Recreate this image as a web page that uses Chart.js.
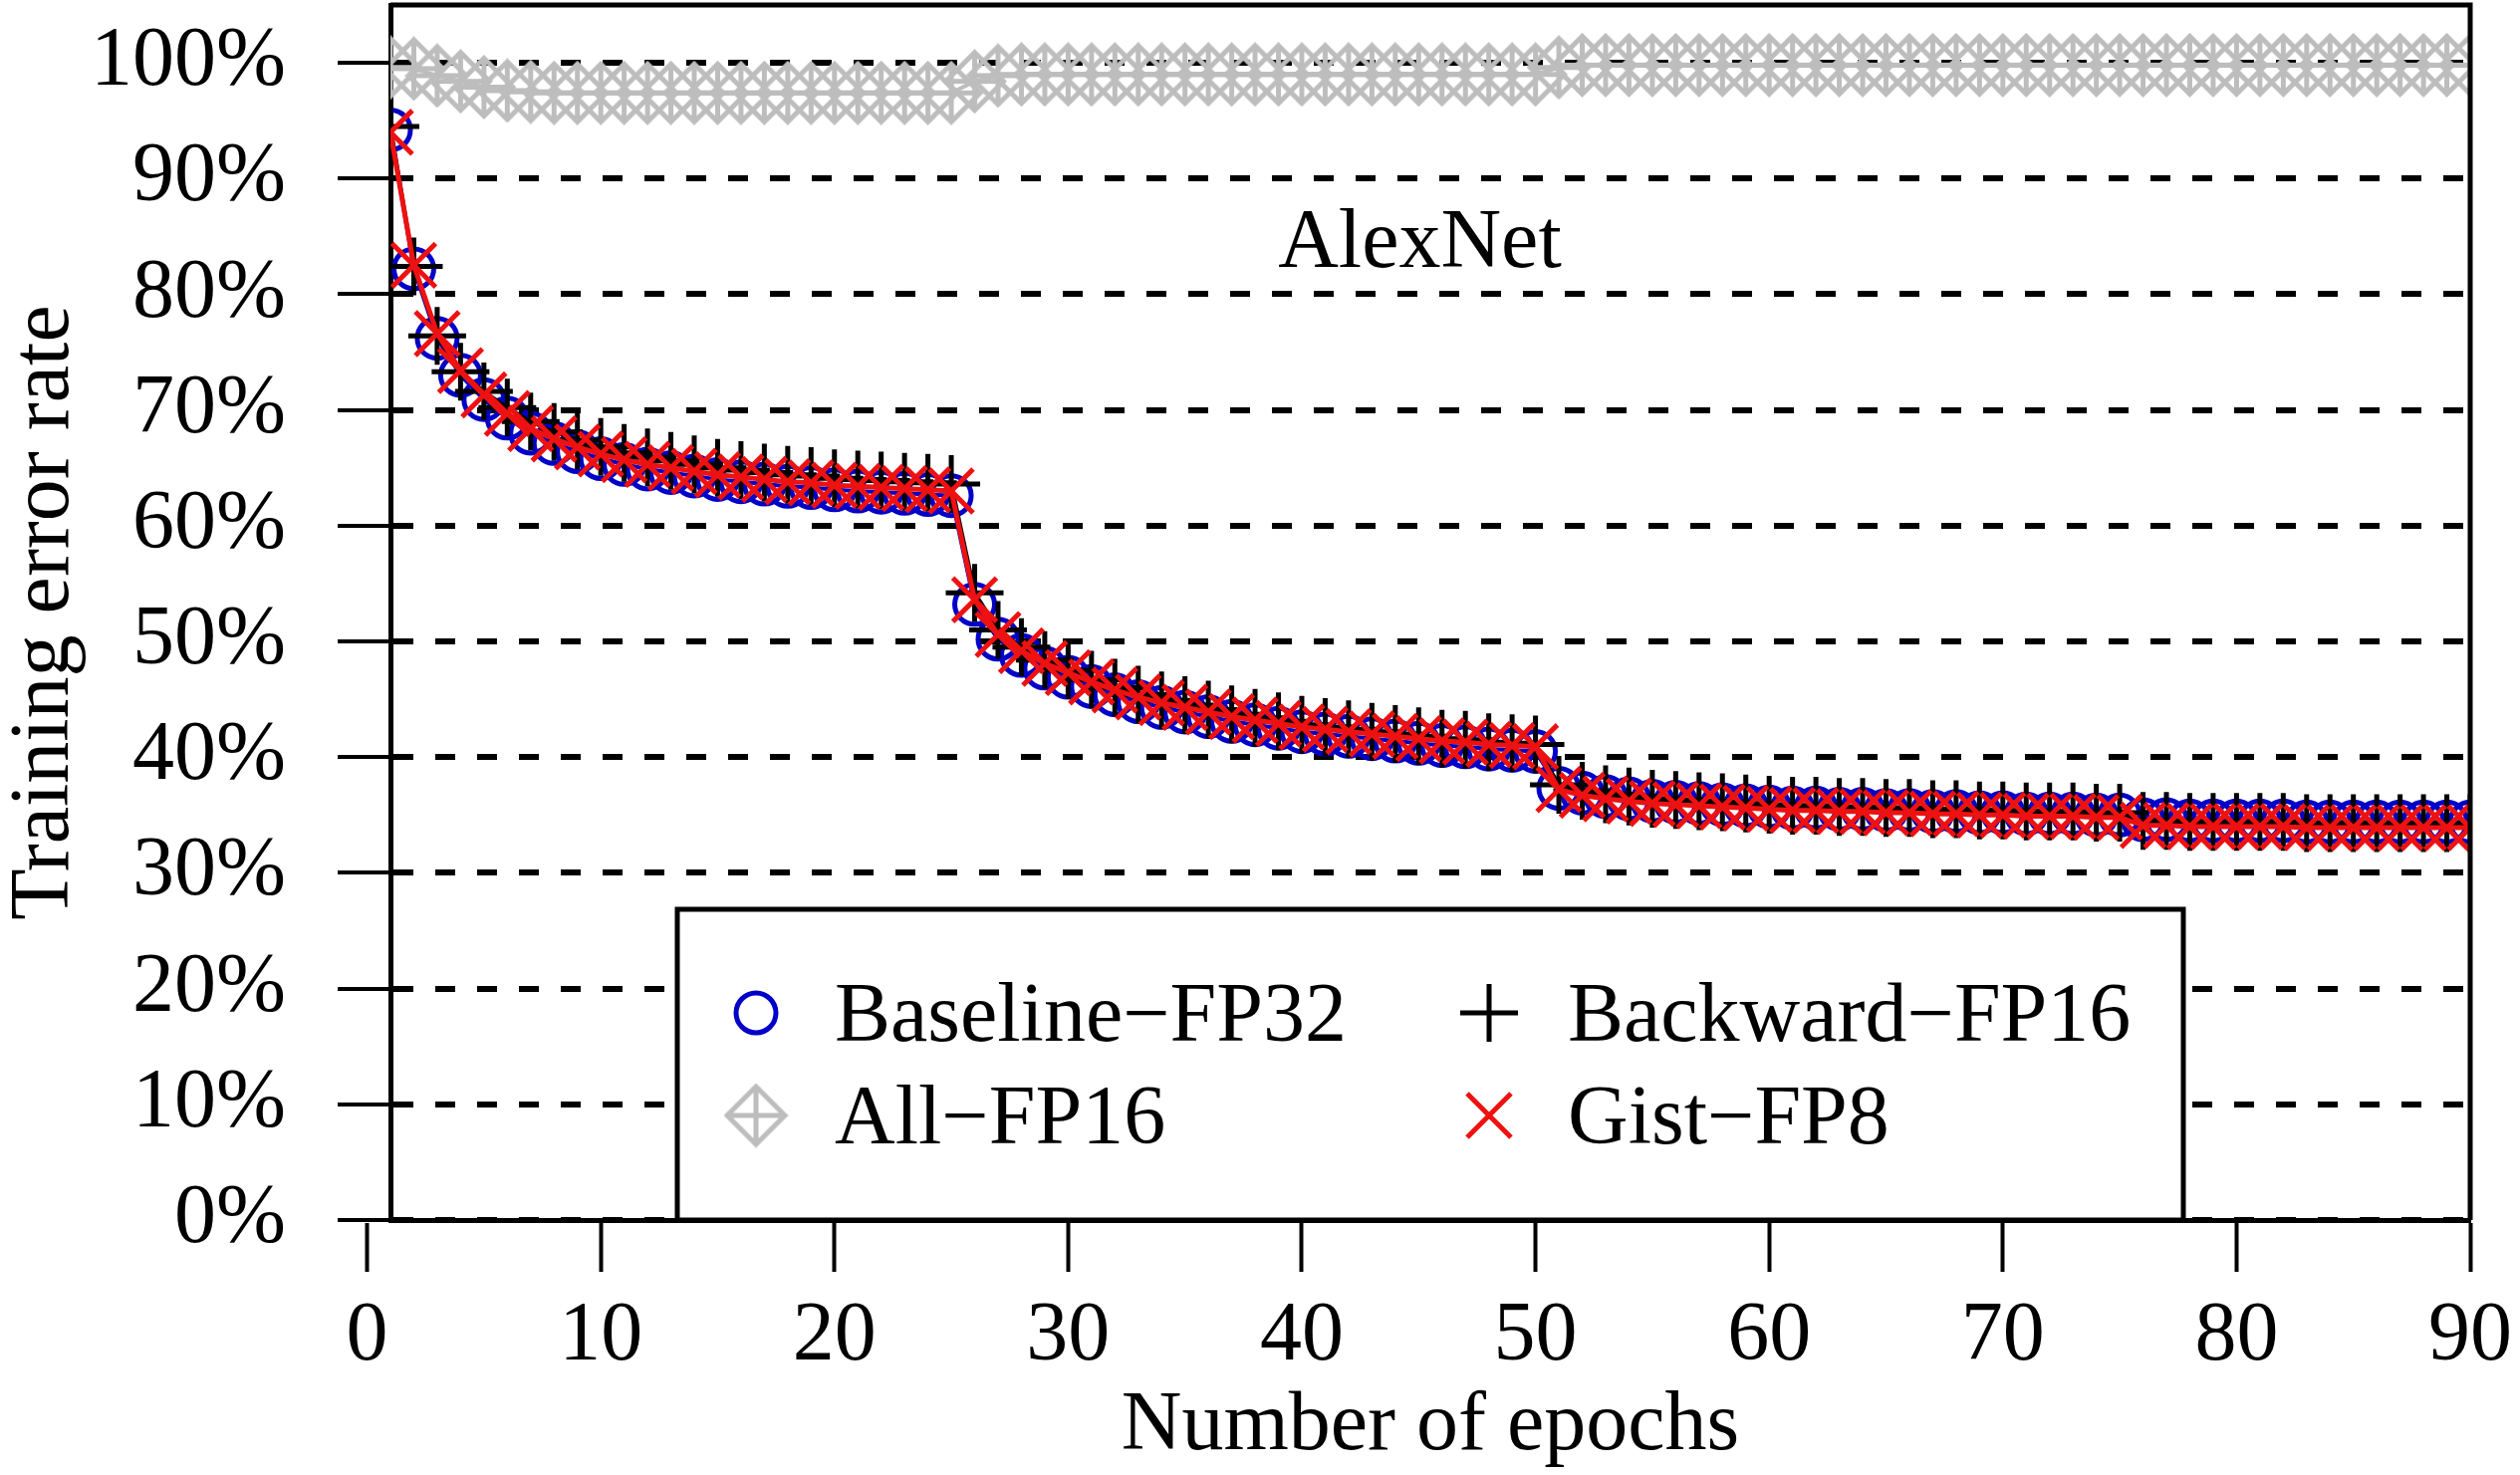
<!DOCTYPE html>
<html>
<head>
<meta charset="utf-8">
<title>AlexNet training error</title>
<script src="https://cdn.jsdelivr.net/npm/chart.js@4.4.1/dist/chart.umd.min.js"></script>
<style>
  html, body { margin: 0; padding: 0; background: #fff; }
  #wrap { width: 2530px; height: 1481px; }
</style>
</head>
<body>
<div id="wrap"><canvas id="chart" width="2530" height="1481"></canvas></div>
<script>
// epochs 1..90
const epochs = [
  1, 2, 3, 4, 5, 6, 7, 8, 9, 10, 11, 12, 13, 14, 15, 16, 17, 18, 19, 20,
  21, 22, 23, 24, 25, 26, 27, 28, 29, 30, 31, 32, 33, 34, 35, 36, 37, 38, 39, 40,
  41, 42, 43, 44, 45, 46, 47, 48, 49, 50, 51, 52, 53, 54, 55, 56, 57, 58, 59, 60,
  61, 62, 63, 64, 65, 66, 67, 68, 69, 70, 71, 72, 73, 74, 75, 76, 77, 78, 79, 80,
  81, 82, 83, 84, 85, 86, 87, 88, 89, 90
];

const baselineFP32 = [
  94.2, 82.2, 76.2, 73.0, 70.9, 69.3, 68.0, 67.1, 66.4, 65.8,
  65.3, 64.9, 64.6, 64.3, 64.0, 63.8, 63.6, 63.4, 63.3, 63.1,
  63.0, 62.9, 62.8, 62.7, 62.6, 53.2, 50.2, 48.8, 47.7, 46.9,
  46.1, 45.4, 44.8, 44.3, 43.9, 43.5, 43.1, 42.8, 42.5, 42.2,
  42.0, 41.8, 41.6, 41.4, 41.2, 41.0, 40.9, 40.7, 40.6, 40.5,
  37.3, 36.9, 36.6, 36.4, 36.2, 36.1, 36.0, 35.9, 35.8, 35.7,
  35.6, 35.6, 35.5, 35.5, 35.4, 35.4, 35.3, 35.3, 35.2, 35.2,
  35.1, 35.1, 35.1, 35.0, 35.0, 34.6, 34.6, 34.5, 34.5, 34.5,
  34.5, 34.5, 34.4, 34.4, 34.4, 34.4, 34.4, 34.4, 34.4, 34.4
];

const backwardFP16 = [
  94.5, 82.4, 76.4, 73.3, 71.6, 70.2, 69.0, 68.1, 67.4, 66.8,
  66.3, 65.9, 65.6, 65.3, 65.0, 64.8, 64.6, 64.4, 64.3, 64.1,
  64.0, 63.9, 63.8, 63.7, 63.6, 54.2, 51.0, 49.5, 48.4, 47.5,
  46.7, 46.0, 45.4, 44.9, 44.5, 44.1, 43.7, 43.4, 43.1, 42.8,
  42.6, 42.4, 42.2, 42.0, 41.8, 41.6, 41.5, 41.3, 41.2, 41.1,
  37.6, 37.1, 36.8, 36.6, 36.4, 36.3, 36.2, 36.1, 36.0, 35.9,
  35.8, 35.8, 35.7, 35.7, 35.6, 35.6, 35.5, 35.5, 35.4, 35.4,
  35.3, 35.3, 35.3, 35.2, 35.2, 34.5, 34.5, 34.4, 34.4, 34.4,
  34.4, 34.4, 34.3, 34.3, 34.3, 34.3, 34.3, 34.3, 34.3, 34.3
];

const allFP16 = [
  99.6, 99.5, 98.9, 98.4, 97.9, 97.6, 97.5, 97.4, 97.4, 97.4,
  97.4, 97.4, 97.4, 97.4, 97.4, 97.4, 97.4, 97.4, 97.4, 97.4,
  97.4, 97.4, 97.4, 97.4, 97.4, 98.4, 98.9, 99.0, 99.0, 99.0,
  99.0, 99.0, 99.0, 99.0, 99.0, 99.0, 99.0, 99.0, 99.0, 99.0,
  99.0, 99.0, 99.0, 99.0, 99.0, 99.0, 99.0, 99.0, 99.0, 99.0,
  99.6, 99.8, 99.8, 99.8, 99.8, 99.8, 99.8, 99.8, 99.8, 99.8,
  99.8, 99.8, 99.8, 99.8, 99.8, 99.8, 99.8, 99.8, 99.8, 99.8,
  99.8, 99.8, 99.8, 99.8, 99.8, 99.8, 99.8, 99.8, 99.8, 99.8,
  99.8, 99.8, 99.8, 99.8, 99.8, 99.8, 99.8, 99.8, 99.8, 99.8
];

const gistFP8 = [
  94.0, 82.5, 76.6, 73.4, 71.3, 69.7, 68.4, 67.5, 66.8, 66.2,
  65.7, 65.3, 65.0, 64.7, 64.4, 64.2, 64.0, 63.8, 63.7, 63.5,
  63.4, 63.3, 63.2, 63.1, 63.0, 53.6, 50.6, 49.2, 48.1, 47.3,
  46.5, 45.8, 45.2, 44.7, 44.3, 43.9, 43.5, 43.2, 42.9, 42.6,
  42.4, 42.2, 42.0, 41.8, 41.6, 41.4, 41.3, 41.1, 41.0, 40.9,
  37.2, 36.7, 36.4, 36.2, 36.0, 35.9, 35.8, 35.7, 35.6, 35.5,
  35.4, 35.4, 35.3, 35.3, 35.2, 35.2, 35.1, 35.1, 35.0, 35.0,
  34.9, 34.9, 34.9, 34.8, 34.8, 34.1, 34.1, 34.0, 34.0, 34.0,
  34.0, 34.0, 33.9, 33.9, 33.9, 33.9, 33.9, 33.9, 33.9, 33.9
];

const xTicks = [0, 10, 20, 30, 40, 50, 60, 70, 80, 90];
const yTicks = [0, 10, 20, 30, 40, 50, 60, 70, 80, 90, 100];

const BLUE = '#0000c8';
const RED = '#ee1111';
const GRAY = '#bdbdbd';
const FONT = "'Liberation Serif', 'Times New Roman', serif";

Chart.defaults.font.family = FONT;
Chart.defaults.color = '#000';

// gray diamond with a plus inside, used as point style for All-FP16
function diamondPlus(color, r, lw) {
  const c = document.createElement('canvas');
  const s = Math.ceil(2 * r + lw + 2);
  c.width = s;
  c.height = s;
  const g = c.getContext('2d');
  const m = s / 2;
  g.strokeStyle = color;
  g.lineWidth = lw;
  g.beginPath();
  g.moveTo(m - r, m); g.lineTo(m, m - r); g.lineTo(m + r, m); g.lineTo(m, m + r); g.closePath();
  g.moveTo(m - r, m); g.lineTo(m + r, m);
  g.moveTo(m, m - r); g.lineTo(m, m + r);
  g.stroke();
  return c;
}
const diamondImg = diamondPlus(GRAY, 29, 5);

function toPoints(ys) {
  return ys.map((v, i) => ({ x: epochs[i], y: v }));
}

const legendEntries = [
  { label: 'Baseline\u2212FP32', kind: 'circle', color: BLUE, col: 0, row: 0 },
  { label: 'Backward\u2212FP16', kind: 'plus', color: '#000', col: 1, row: 0 },
  { label: 'All\u2212FP16', kind: 'diamond', color: GRAY, col: 0, row: 1 },
  { label: 'Gist\u2212FP8', kind: 'x', color: RED, col: 1, row: 1 }
];

function drawMarker(ctx, kind, color, x, y) {
  ctx.save();
  ctx.strokeStyle = color;
  ctx.lineWidth = 5;
  ctx.beginPath();
  if (kind === 'circle') {
    ctx.arc(x, y, 20, 0, Math.PI * 2);
  } else if (kind === 'plus') {
    ctx.moveTo(x - 29, y); ctx.lineTo(x + 29, y);
    ctx.moveTo(x, y - 29); ctx.lineTo(x, y + 29);
  } else if (kind === 'x') {
    ctx.moveTo(x - 22, y - 22); ctx.lineTo(x + 22, y + 22);
    ctx.moveTo(x + 22, y - 22); ctx.lineTo(x - 22, y + 22);
  }
  ctx.stroke();
  if (kind === 'diamond') {
    ctx.drawImage(diamondImg, x - diamondImg.width / 2, y - diamondImg.height / 2);
  }
  ctx.restore();
}

const framePlugin = {
  id: 'frame',
  afterDatasetsDraw(chart) {
    const { ctx, chartArea: a, scales: { x, y } } = chart;
    ctx.save();
    // top and right border
    ctx.strokeStyle = '#000';
    ctx.lineWidth = 5;
    ctx.beginPath();
    ctx.moveTo(a.left, a.top);
    ctx.lineTo(a.right, a.top);
    ctx.lineTo(a.right, a.bottom);
    ctx.stroke();

    ctx.fillStyle = '#000';
    ctx.font = '84px ' + FONT;
    ctx.textAlign = 'center';
    ctx.textBaseline = 'alphabetic';
    // panel title
    ctx.fillText('AlexNet', x.getPixelForValue(45.05), y.getPixelForValue(82.4));
    // x axis title
    ctx.fillText('Number of epochs', (a.left + a.right) / 2, 1455);

    // legend box
    const bx = 680, by = 913, bw = 1512, bh = a.bottom - by;
    ctx.fillStyle = '#fff';
    ctx.fillRect(bx, by, bw, bh);
    ctx.strokeStyle = '#000';
    ctx.lineWidth = 5;
    ctx.strokeRect(bx, by, bw, bh);

    const colMarkX = [759, 1495];
    const colTextX = [838, 1574];
    const rowY = [1017, 1120];
    ctx.fillStyle = '#000';
    ctx.textAlign = 'left';
    legendEntries.forEach(e => {
      drawMarker(ctx, e.kind, e.color, colMarkX[e.col], rowY[e.row]);
      ctx.fillText(e.label, colTextX[e.col], rowY[e.row] + 28);
    });
    ctx.restore();
  }
};

const ctx = document.getElementById('chart').getContext('2d');
new Chart(ctx, {
  type: 'line',
  data: {
    datasets: [
      {
        label: 'Baseline\u2212FP32',
        data: toPoints(baselineFP32),
        borderColor: BLUE,
        borderWidth: 4,
        pointStyle: 'circle',
        pointRadius: 20,
        pointBorderWidth: 5,
        pointBorderColor: BLUE,
        pointBackgroundColor: 'rgba(0,0,0,0)',
        order: 3
      },
      {
        label: 'Backward\u2212FP16',
        data: toPoints(backwardFP16),
        borderColor: '#000',
        borderWidth: 4,
        pointStyle: 'cross',
        pointRadius: 29,
        pointBorderWidth: 5,
        pointBorderColor: '#000',
        order: 2
      },
      {
        label: 'All\u2212FP16',
        data: toPoints(allFP16),
        borderColor: GRAY,
        borderWidth: 4,
        pointStyle: diamondImg,
        pointRadius: 29,
        order: 1
      },
      {
        label: 'Gist\u2212FP8',
        data: toPoints(gistFP8),
        borderColor: RED,
        borderWidth: 5,
        pointStyle: 'crossRot',
        pointRadius: 31,
        pointBorderWidth: 5,
        pointBorderColor: RED,
        order: 0
      }
    ]
  },
  options: {
    responsive: false,
    animation: false,
    devicePixelRatio: 1,
    layout: { autoPadding: false, padding: { top: 5, right: 50, left: 0, bottom: 0 } },
    elements: { line: { tension: 0 } },
    plugins: {
      legend: { display: false },
      tooltip: { enabled: false }
    },
    scales: {
      x: {
        type: 'linear',
        min: 1,
        max: 90,
        afterBuildTicks: s => { s.ticks = xTicks.map(v => ({ value: v })); },
        afterFit: s => { s.height = 256; s.paddingLeft = 0; s.paddingRight = 0; },
        ticks: {
          autoSkip: false,
          maxRotation: 0,
          padding: 16,
          color: '#000',
          font: { size: 84 }
        },
        grid: {
          drawOnChartArea: false,
          drawTicks: true,
          tickLength: 52,
          tickWidth: 4,
          tickColor: '#000',
          color: '#000'
        },
        border: { display: true, color: '#000', width: 5 },
        title: { display: false }
      },
      y: {
        min: 0,
        max: 105,
        afterBuildTicks: s => { s.ticks = yTicks.map(v => ({ value: v })); },
        afterFit: s => { s.width = 392; s.paddingTop = 0; s.paddingBottom = 0; },
        ticks: {
          padding: 52,
          color: '#000',
          font: { size: 84 },
          callback: v => v + '%'
        },
        grid: {
          color: '#000',
          lineWidth: 6,
          drawTicks: true,
          tickLength: 53,
          tickWidth: 4,
          tickColor: '#000'
        },
        border: { display: true, color: '#000', width: 5, dash: [20, 22] },
        title: {
          display: true,
          text: 'Training error rate',
          color: '#000',
          font: { size: 84, lineHeight: 1 },
          padding: { top: 4, bottom: 0 }
        }
      }
    }
  },
  plugins: [framePlugin]
});
</script>
</body>
</html>
